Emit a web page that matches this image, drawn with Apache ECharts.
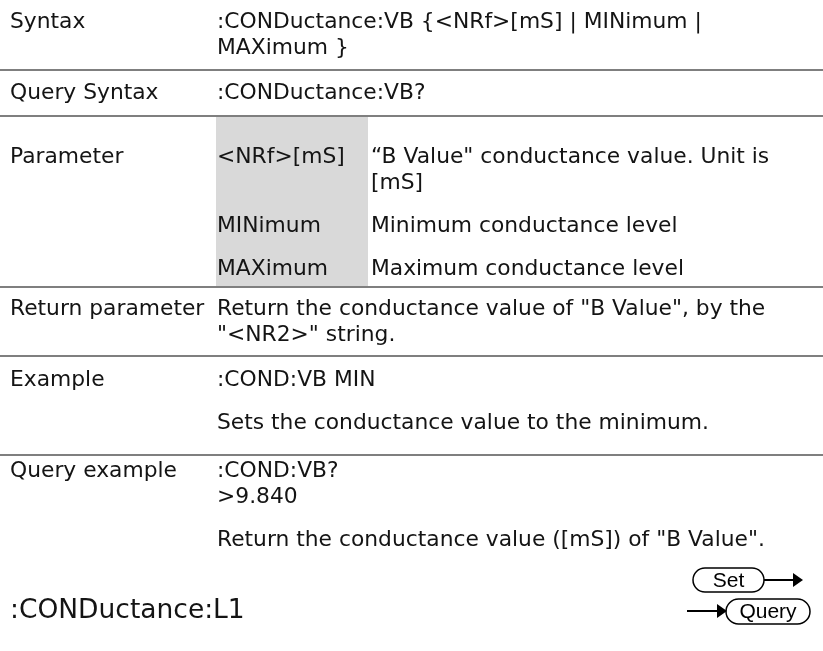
<!DOCTYPE html>
<html>
<head>
<meta charset="utf-8">
<script src="https://cdn.jsdelivr.net/npm/echarts@6/dist/echarts.min.js"></script>
<style>
html,body{margin:0;padding:0;background:#fff;}
#main{width:823px;height:651px;}
</style>
</head>
<body>
<div id="main"></div>
<script>
// ---- content (data) ----
var rowLabels = ['Syntax', 'Query Syntax', 'Parameter', 'Return parameter', 'Example', 'Query example'];
var syntaxLines = [':CONDuctance:VB {<NRf>[mS] | MINimum |', 'MAXimum }'];
var querySyntaxLines = [':CONDuctance:VB?'];
var paramNames = ['<NRf>[mS]', 'MINimum', 'MAXimum'];
var paramDescs = [['\u201CB Value" conductance value. Unit is', '[mS]'], ['Minimum conductance level'], ['Maximum conductance level']];
var returnLines = ['Return the conductance value of "B Value", by the', '"<NR2>" string.'];
var exampleParas = [[':COND:VB MIN'], ['Sets the conductance value to the minimum.']];
var queryExampleParas = [[':COND:VB?', '>9.840'], ['Return the conductance value ([mS]) of "B Value".']];
var headingText = ':CONDuctance:L1';
var buttonLabels = ['Set', 'Query'];

// ---- layout ----
var FONT = '"DejaVu Sans", sans-serif';
var FS = 21.8;
var TEXT_COLOR = '#141414';
var RULE_COLOR = '#7f7f7f';
var SHADE = '#d9d9d9';
var COL1 = 10, COL2 = 217, COL3 = 371;
var SHADE_X0 = 216, SHADE_X1 = 368;
var LH = 26, PARA = 43;

var els = [];
function txt(s, x, y, opt) {
  opt = opt || {};
  els.push({
    type: 'text', x: x, y: y, z: 10,
    style: {
      text: s, fill: opt.fill || TEXT_COLOR,
      font: (opt.size || FS) + 'px ' + (opt.family || FONT),
      align: opt.align || 'left', verticalAlign: 'middle',
      textAlign: opt.align || 'left', textVerticalAlign: 'middle'
    }
  });
}
function rule(y) {
  els.push({ type: 'line', z: 5, shape: { x1: 0, y1: y, x2: 823, y2: y }, style: { stroke: RULE_COLOR, lineWidth: 2 } });
}

// Row centers
var rowFirst = [22, 93, 157, 309, 380, 471];
var rules = [70, 116, 287, 356, 455];

// Syntax
txt(rowLabels[0], COL1, rowFirst[0]);
syntaxLines.forEach(function (s, i) { txt(s, COL2, rowFirst[0] + i * LH); });
rule(rules[0]);
// Query syntax
txt(rowLabels[1], COL1, rowFirst[1]);
querySyntaxLines.forEach(function (s, i) { txt(s, COL2, rowFirst[1] + i * LH); });
rule(rules[1]);
// Parameter
els.push({ type: 'rect', z: 1, shape: { x: SHADE_X0, y: rules[1] + 1, width: SHADE_X1 - SHADE_X0, height: rules[2] - rules[1] - 2 }, style: { fill: SHADE } });
txt(rowLabels[2], COL1, rowFirst[2]);
var py = rowFirst[2];
paramNames.forEach(function (n, i) {
  txt(n, COL2, py);
  paramDescs[i].forEach(function (d, j) { txt(d, COL3, py + j * LH); });
  py += (paramDescs[i].length - 1) * LH + PARA;
});
rule(rules[2]);
// Return parameter
txt(rowLabels[3], COL1, rowFirst[3]);
returnLines.forEach(function (s, i) { txt(s, COL2, rowFirst[3] + i * LH); });
rule(rules[3]);
// Example
txt(rowLabels[4], COL1, rowFirst[4]);
var ey = rowFirst[4];
exampleParas.forEach(function (p) {
  p.forEach(function (s, j) { txt(s, COL2, ey + j * LH); });
  ey += (p.length - 1) * LH + PARA;
});
rule(rules[4]);
// Query example
txt(rowLabels[5], COL1, rowFirst[5]);
var qy = rowFirst[5];
queryExampleParas.forEach(function (p) {
  p.forEach(function (s, j) { txt(s, COL2, qy + j * LH); });
  qy += (p.length - 1) * LH + PARA;
});

// Heading
txt(headingText, COL1, 611, { size: 26.5 });

// Set / Query buttons
function capsule(x, y, w, h, label) {
  els.push({ type: 'rect', z: 10, shape: { x: x, y: y, width: w, height: h, r: h / 2 }, style: { fill: '#fff', stroke: '#000', lineWidth: 1.5 } });
  txt(label, x + w / 2, y + h / 2 + 1, { align: 'center', size: 21, family: '"Liberation Sans", Arial, sans-serif', fill: '#000' });
}
function arrow(x1, x2, y) {
  els.push({ type: 'line', z: 10, shape: { x1: x1, y1: y, x2: x2 - 8, y2: y }, style: { stroke: '#000', lineWidth: 2 } });
  els.push({ type: 'polygon', z: 10, shape: { points: [[x2 - 10, y - 7], [x2, y], [x2 - 10, y + 7]] }, style: { fill: '#000' } });
}
capsule(693, 568, 71, 24, buttonLabels[0]);
arrow(764, 803, 580);
capsule(726, 599, 84, 25, buttonLabels[1]);
arrow(687, 727, 611);

var chart = echarts.init(document.getElementById('main'), null, { renderer: 'canvas' });
chart.setOption({ backgroundColor: '#fff', animation: false, graphic: { elements: els } });
</script>
</body>
</html>
